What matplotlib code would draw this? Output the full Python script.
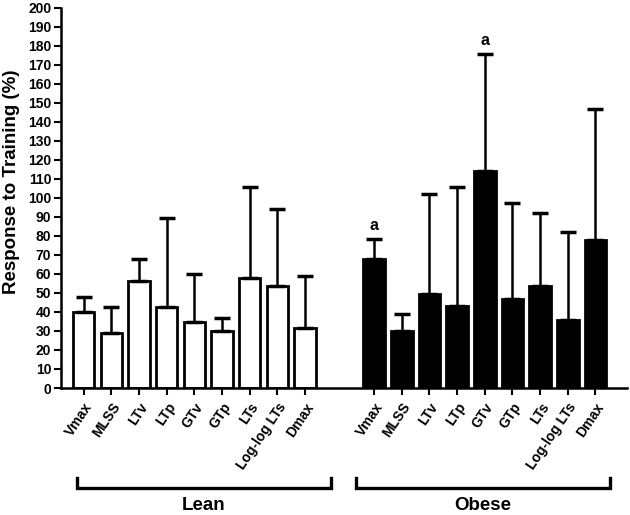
import matplotlib
matplotlib.use("Agg")
import matplotlib.pyplot as plt
import numpy as np

plt.rcParams['font.family'] = ['Liberation Sans', 'DejaVu Sans']
plt.rcParams['font.weight'] = 'bold'

categories = ["Vmax", "MLSS", "LTv", "LTp", "GTv", "GTp", "LTs", "Log-log LTs", "Dmax"]
lean_mean = [40, 29, 56.5, 42.8, 34.5, 29.8, 57.7, 53.7, 31.6]
lean_upper = [48, 42.4, 67.9, 89.6, 60.2, 36.8, 106, 94.4, 59.1]
obese_mean = [68, 29.8, 49.5, 43.3, 114, 47, 53.8, 36, 78]
obese_upper = [78.6, 39, 102.3, 105.8, 175.8, 97.2, 92, 82, 147]
groups = ["Lean", "Obese"]
sig_obese = ["a", "", "", "", "a", "", "", "", ""]
yticks = list(range(0, 201, 10))

fig = plt.figure(figsize=(6.3, 5.15), dpi=100)
ax = fig.add_axes([0.0968, 0.2466, 0.898, 0.738])

n = len(categories)
x_lean = np.arange(n)
x_obese = np.arange(n) + n + 1.5
w = 0.78

lean_err = np.array(lean_upper) - np.array(lean_mean)
obese_err = np.array(obese_upper) - np.array(obese_mean)

ekw = dict(elinewidth=1.8, capsize=5.5, capthick=2.5, ecolor='black')
ax.bar(x_lean, lean_mean, width=w, color='white', edgecolor='black', linewidth=2.0,
       yerr=[np.zeros(n), lean_err], error_kw=ekw, zorder=2)
ax.bar(x_obese, obese_mean, width=w, color='black', edgecolor='black', linewidth=2.0,
       yerr=[np.zeros(n), obese_err], error_kw=ekw, zorder=2)

for xi, top, s in zip(x_obese, obese_upper, sig_obese):
    if s:
        ax.text(xi, top + 3, s, ha='center', va='bottom', fontsize=11.5, fontweight='bold')

ax.set_xlim(-0.82, x_obese[-1] + 1.13)
ax.set_ylim(0, 200)
ax.set_yticks(yticks)
ax.set_yticklabels([str(t) for t in yticks], fontsize=10, fontweight='bold')
ax.set_xticks(np.concatenate([x_lean, x_obese]))
ax.set_xticklabels(categories + categories, rotation=56, ha='right', rotation_mode='anchor',
                   fontsize=10, fontweight='bold')
ax.tick_params(axis='both', direction='out', length=5, width=1.5, pad=2)
ax.tick_params(axis='x', pad=4)
for s in ['top', 'right']:
    ax.spines[s].set_visible(False)
for s in ['left', 'bottom']:
    ax.spines[s].set_linewidth(1.8)
ax.set_ylabel("Response to Training (%)", fontsize=13.5, fontweight='bold')
ax.yaxis.set_label_coords(-0.072, 0.543)

# group brackets (figure coordinates)
W, H = 630, 515
brackets = [(76.6, 331), (355.6, 609.7)]
yb, yt = 1 - 488 / H, 1 - 478 / H
for (x0, x1), g in zip(brackets, groups):
    fx0, fx1 = x0 / W, x1 / W
    fig.add_artist(plt.Line2D([fx0, fx0, fx1, fx1], [yt, yb, yb, yt], color='black',
                              linewidth=2.4, transform=fig.transFigure, solid_joinstyle='miter'))
    fig.text((fx0 + fx1) / 2, 1 - 505 / H, g, ha='center', va='center', fontsize=13.5, fontweight='bold')

fig.savefig("out.png", dpi=100)
